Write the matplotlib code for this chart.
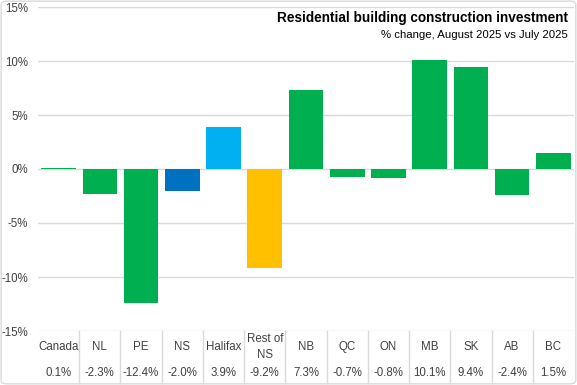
import matplotlib.pyplot as plt
import numpy as np
from matplotlib.patches import FancyBboxPatch

categories = ['Canada', 'NL', 'PE', 'NS', 'Halifax', 'Rest of\nNS', 'NB', 'QC',
              'ON', 'MB', 'SK', 'AB', 'BC']
values = [0.1, -2.3, -12.4, -2.0, 3.9, -9.2, 7.3, -0.7, -0.8, 10.1, 9.4, -2.4, 1.5]
value_labels = ['0.1%', '-2.3%', '-12.4%', '-2.0%', '3.9%', '-9.2%', '7.3%', '-0.7%',
                '-0.8%', '10.1%', '9.4%', '-2.4%', '1.5%']
colors = ['#00B050', '#00B050', '#00B050', '#0070C0', '#00B0F0', '#FFC000', '#00B050',
          '#00B050', '#00B050', '#00B050', '#00B050', '#00B050', '#00B050']

plt.rcParams['font.family'] = ['Liberation Sans', 'DejaVu Sans']

fig = plt.figure(figsize=(5.77, 3.85), dpi=100)
ax = fig.add_axes([38/577, 1-331/385, 536/577, 324/385])

x = np.arange(len(categories))
ax.bar(x, values, width=0.84, color=colors, zorder=3)

ax.set_xlim(-0.5, len(categories) - 0.5)
ax.set_ylim(-15, 15)
ax.set_yticks(np.arange(-15, 16, 5))
ax.set_yticklabels([f'{v}%' for v in range(-15, 16, 5)], fontsize=8.3, color='#404040')
ax.tick_params(axis='y', length=0, pad=7)
ax.set_xticks([])
ax.grid(axis='y', color='#D9D9D9', linewidth=1, zorder=0)
for s in ax.spines.values():
    s.set_visible(False)

# data table below the plot
trans = ax.get_xaxis_transform()
for i in range(1, len(categories)):
    ax.plot([i - 0.5, i - 0.5], [0, -52/324], transform=trans, color='#D9D9D9',
            linewidth=1, clip_on=False)
for i, (c, v) in enumerate(zip(categories, value_labels)):
    ax.text(i, -16/324, c, transform=trans, ha='center', va='center', fontsize=8.3,
            color='#404040', linespacing=1.4)
    ax.text(i, -42/324, v, transform=trans, ha='center', va='center', fontsize=8.3,
            color='#404040')

fig.text(568/577, 1-18/385, 'Residential building construction investment',
         ha='right', va='center', fontsize=9.8, fontweight='bold', color='#000000')
fig.text(568/577, 1-35/385, '% change, August 2025 vs July 2025',
         ha='right', va='center', fontsize=8.2, color='#000000')

fig.patches.append(FancyBboxPatch((0.002, 0.003), 0.996, 0.994,
                                  boxstyle='round,pad=0,rounding_size=0.01',
                                  transform=fig.transFigure, fill=False,
                                  edgecolor='#D9D9D9', linewidth=1))

fig.savefig('out.png', dpi=100)
